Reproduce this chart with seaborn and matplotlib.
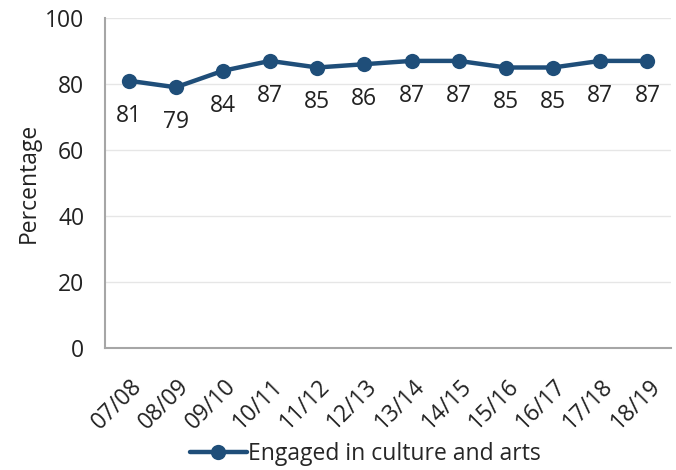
import matplotlib
matplotlib.use("Agg")
import matplotlib.pyplot as plt
import matplotlib.transforms as mtransforms
import seaborn as sns
import pandas as pd
from matplotlib.ticker import MultipleLocator

years = ["07/08", "08/09", "09/10", "10/11", "11/12", "12/13",
         "13/14", "14/15", "15/16", "16/17", "17/18", "18/19"]
engaged = [81, 79, 84, 87, 85, 86, 87, 87, 85, 85, 87, 87]
series_name = "Engaged in culture and arts"

sns.set_style("white")
plt.rcParams['font.family'] = ['Open Sans', 'DejaVu Sans']

df = pd.DataFrame({"year": years, "value": engaged, "series": series_name})
df["x"] = range(len(years))

fig = plt.figure(figsize=(6.76, 4.70), dpi=100)
ax = fig.add_axes([105/676, 1-348/470, 566/676, 330/470])

FS = 16.5
color = "#1F4E79"
sns.lineplot(data=df, x="x", y="value", hue="series", palette=[color],
             marker="o", markersize=11, linewidth=3.2, markeredgewidth=0,
             ax=ax, legend=True)

for xi, v in zip(df["x"], df["value"]):
    ax.annotate(str(v), (xi, v), xytext=(0, -16.5), textcoords="offset points",
                ha="center", va="top", fontsize=FS, color="#222222")

ax.set_xlim(-0.5, len(years) - 0.5)
ax.set_ylim(0, 100)
ax.yaxis.set_major_locator(MultipleLocator(20))
ax.grid(axis="y", color="#e6e6e6", linewidth=1)
ax.set_axisbelow(True)

ax.set_xticks(range(len(years)))
ax.set_xticklabels(years, rotation=45, ha="right", rotation_mode="anchor", fontsize=FS)
ax.set_xticks([i - 0.5 for i in range(len(years) + 1)], minor=True)
ax.tick_params(axis="x", which="major", length=0, pad=19)
ax.tick_params(axis="x", which="minor", length=7, color="#a6a6a6", width=1.2, direction="out")
ax.tick_params(axis="y", length=6, color="#a6a6a6", width=1.2, direction="out", labelsize=FS, pad=9)
shift = mtransforms.ScaledTranslation(1/100, 0, fig.dpi_scale_trans)
for lbl in ax.get_xticklabels():
    lbl.set_transform(lbl.get_transform() + shift)
for lbl in ax.get_yticklabels() + ax.get_xticklabels():
    lbl.set_color("#222222")

for s in ["top", "right"]:
    ax.spines[s].set_visible(False)
for s in ["left", "bottom"]:
    ax.spines[s].set_color("#a6a6a6")
    ax.spines[s].set_linewidth(1.5)

ax.set_xlabel("")
ax.set_ylabel("Percentage", fontsize=FS, color="#222222", labelpad=3)

leg = ax.legend(loc="lower center", bbox_to_anchor=(0.5 - 0.04, -0.42), frameon=False,
                fontsize=FS, handlelength=2.5, handletextpad=0.05)
for h in leg.legend_handles:
    h.set_linewidth(3.2)

fig.savefig("out.png", dpi=100)
